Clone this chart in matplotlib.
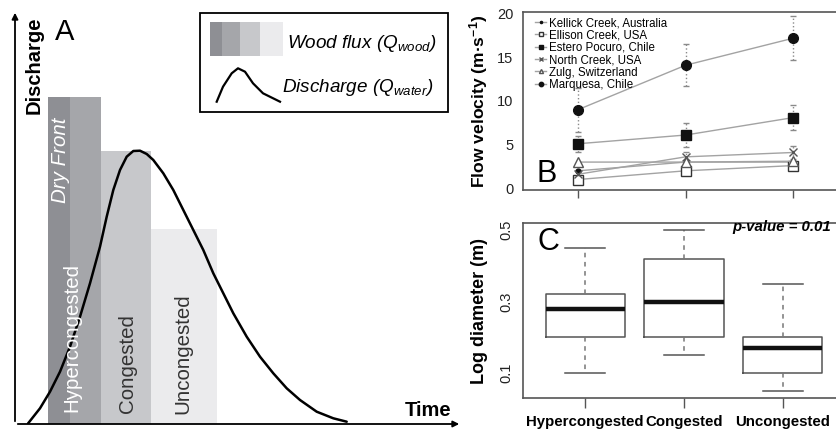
import matplotlib
matplotlib.use("Agg")
import matplotlib.pyplot as plt
from matplotlib.patches import Rectangle

plt.rcParams['font.family'] = ['Liberation Sans', 'DejaVu Sans']
plt.rcParams['mathtext.fontset'] = 'custom'
plt.rcParams['mathtext.rm'] = 'Liberation Sans'
plt.rcParams['mathtext.it'] = 'Liberation Sans:italic'
plt.rcParams['mathtext.bf'] = 'Liberation Sans:bold'

# ---- panel A: conceptual wood flux / discharge ----
phase_names = ["Dry Front", "Hypercongested", "Congested", "Uncongested"]
phase_start = [33, 55, 86, 136]
phase_width = [22, 31, 50, 66]
phase_flux = [327, 327, 273, 195]
phase_colors = ["#8e8f94", "#a5a6aa", "#c7c8cb", "#ebebed"]

hydro_t = [13, 25, 35, 45, 55, 65, 75, 85, 91.7, 98.3, 105, 111.7, 118.3, 125,
           131.7, 138.3, 148.3, 158.3, 168.3, 178.3, 188.3, 198.3, 208.3, 218.3,
           231.7, 245, 258.3, 271.7, 285, 301.7, 318.3, 331.7]
hydro_q = [0.5, 15.7, 32.3, 52.3, 77.3, 107.3, 140.7, 177.3, 207.3, 234, 254,
           267.3, 273, 273.3, 270, 264, 250.7, 234, 214, 194, 174, 150.7, 130.7,
           110.7, 87.3, 67.3, 50.7, 35.7, 24, 12.3, 5.7, 2.3]

# little legend curve
mini_t = [201.7, 208, 216.7, 223, 230, 238, 248, 265]
mini_q = [322.3, 337.3, 350.7, 355.7, 352.3, 340.7, 330.7, 322.3]
swatch_start = [195, 207, 225, 245]
swatch_width = [12, 18, 20, 23]

# ---- panel B: flow velocity ----
sites = ["Kellick Creek, Australia", "Ellison Creek, USA", "Estero Pocuro, Chile",
         "North Creek, USA", "Zulg, Switzerland", "Marquesa, Chile"]
phase_pos = [1, 2, 3]
kellick = [2.0, 3.0, 3.0]
ellison = [1.0, 2.0, 2.6]
estero = [5.1, 6.1, 8.1]
estero_err = [0.9, 1.4, 1.4]
north = [1.6, 3.6, 4.1]
north_err = [0.5, 0.6, 0.7]
zulg = [3.0, 3.0, 3.1]
marquesa = [9.0, 14.1, 17.2]
marquesa_err = [2.5, 2.4, 2.5]

# ---- panel C: log diameter boxplots ----
box_labels = ["Hypercongested", "Congested", "Uncongested"]
box_q1 = [0.20, 0.20, 0.10]
box_med = [0.28, 0.30, 0.17]
box_q3 = [0.32, 0.42, 0.20]
box_lo = [0.10, 0.15, 0.05]
box_hi = [0.45, 0.50, 0.35]

W, H = 837, 430
fig = plt.figure(figsize=(W / 100, H / 100), dpi=100)


def px_axes(left, top, right, bottom):
    return fig.add_axes([left / W, 1 - bottom / H, (right - left) / W, (bottom - top) / H])


# panel A
ax = px_axes(15, 10, 462, 424)
ax.set_xlim(0, 447)
ax.set_ylim(0, 414)
ax.axis("off")
for s, w, h, c in zip(phase_start, phase_width, phase_flux, phase_colors):
    ax.bar(s, h, width=w, align="edge", color=c, linewidth=0)
ax.plot(hydro_t, hydro_q, color="black", lw=1.8, solid_capstyle="round")
ax.annotate("", xy=(0, 414), xytext=(0, 0), annotation_clip=False,
            arrowprops=dict(arrowstyle="-|>", color="black", lw=1.3, mutation_scale=9))
ax.annotate("", xy=(447, 0), xytext=(0, 0), annotation_clip=False,
            arrowprops=dict(arrowstyle="-|>", color="black", lw=1.3, mutation_scale=9))
ax.text(50, 392, "A", fontsize=21, ha="center", va="center")
ax.text(19, 359, "Discharge", fontsize=14.5, fontweight="bold", rotation=90,
        ha="center", va="center")
ax.text(413, 13, "Time", fontsize=14.5, fontweight="bold", ha="center", va="center")
ax.text(46, 264, phase_names[0], fontsize=14.8, style="italic", color="white",
        rotation=90, ha="center", va="center")
ax.text(57, 87, phase_names[1], fontsize=14.8, color="white", rotation=90,
        ha="center", va="center")
ax.text(113, 60, phase_names[2], fontsize=14.8, color="#333333", rotation=90,
        ha="center", va="center")
ax.text(168, 70, phase_names[3], fontsize=14.8, color="#333333", rotation=90,
        ha="center", va="center")
# legend box
ax.add_patch(Rectangle((185, 312), 248, 99, fill=False, edgecolor="black", lw=1.3, clip_on=False))
for s, w, c in zip(swatch_start, swatch_width, phase_colors):
    ax.bar(s, 34, width=w, bottom=368, align="edge", color=c, linewidth=0)
ax.plot(mini_t, mini_q, color="black", lw=1.6)
ax.text(272, 381, "Wood flux (Q$_{wood}$)", fontsize=13.6, style="italic", va="center")
ax.text(267, 337, "Discharge (Q$_{water}$)", fontsize=13.6, style="italic", va="center")

# panel B
axb = px_axes(523, 12, 845, 190)
axb.set_xlim(0.49, 3.48)
axb.set_ylim(-0.2, 20.2)
line_c = "#a3a3a3"
axb.errorbar(phase_pos, marquesa, yerr=marquesa_err, fmt="none", ecolor="#8a8a8a",
             elinewidth=1, capsize=2.5)
axb.errorbar(phase_pos, estero, yerr=estero_err, fmt="none", ecolor="#8a8a8a",
             elinewidth=1, capsize=2.5)
axb.errorbar(phase_pos, north, yerr=north_err, fmt="none", ecolor="#8a8a8a",
             elinewidth=1, capsize=2.5)
for eb in axb.containers:
    for col in eb.lines[2]:
        col.set_linestyle(":")
axb.plot(phase_pos, kellick, color=line_c, lw=1, marker="o", ms=3.5, mfc="#111111",
         mec="#111111", label=sites[0])
axb.plot(phase_pos, ellison, color=line_c, lw=1, marker="s", ms=6.5, mfc="white",
         mec="#333333", label=sites[1])
axb.plot(phase_pos, estero, color=line_c, lw=1, marker="s", ms=6.5, mfc="#111111",
         mec="#111111", label=sites[2])
axb.plot(phase_pos, north, color=line_c, lw=1, marker="x", ms=6, mec="#555555",
         mew=1, label=sites[3])
axb.plot(phase_pos, zulg, color=line_c, lw=1, marker="^", ms=6.5, mfc="white",
         mec="#555555", label=sites[4])
axb.plot(phase_pos, marquesa, color=line_c, lw=1, marker="o", ms=7, mfc="#111111",
         mec="#111111", label=sites[5])
axb.legend(loc="upper left", bbox_to_anchor=(0.015, 1.01), frameon=False,
           fontsize=8.3, markerscale=0.45, handlelength=1.0, handletextpad=0.2,
           labelspacing=0.03, borderaxespad=0.2)
axb.set_xticks(phase_pos)
axb.set_xticklabels([])
axb.set_yticks([0, 5, 10, 15, 20])
axb.tick_params(axis="x", length=6, width=1, color="#555555", direction="out")
axb.tick_params(axis="y", length=0, pad=7, labelsize=10.5, labelcolor="#222222")
for sp in axb.spines.values():
    sp.set_color("#555555")
    sp.set_linewidth(1.2)
axb.set_ylabel("Flow velocity (m·s$^{\\mathbf{-1}}$)", fontsize=12.6, fontweight="bold")
axb.yaxis.set_label_coords(-0.102, 0.5)
axb.text(0.072, 0.09, "B", fontsize=22, ha="center", va="center", transform=axb.transAxes)

# panel C
axc = px_axes(523, 223, 845, 398)
stats = []
for lab, q1, med, q3, lo, hi in zip(box_labels, box_q1, box_med, box_q3, box_lo, box_hi):
    stats.append(dict(label=lab, q1=q1, med=med, q3=q3, whislo=lo, whishi=hi, fliers=[]))
axc.bxp(stats, positions=phase_pos, widths=0.8, capwidths=0.4, showfliers=False,
        boxprops=dict(color="#555555", lw=1.1),
        medianprops=dict(color="#111111", lw=3.2, solid_capstyle="butt"),
        whiskerprops=dict(color="#777777", lw=1.1, linestyle=(0, (3, 3))),
        capprops=dict(color="#555555", lw=1.1))
axc.set_xlim(0.37, 3.63)
axc.set_ylim(0.03, 0.52)
axc.set_yticks([0.1, 0.3, 0.5])
axc.set_yticklabels(["0.1", "0.3", "0.5"], rotation=90, va="center")
axc.tick_params(axis="y", length=0, pad=7, labelsize=10.5, labelcolor="#222222")
axc.tick_params(axis="x", length=7, width=1, color="#555555", pad=5, labelsize=10.8)
for t in axc.get_xticklabels():
    t.set_fontweight("bold")
for sp in axc.spines.values():
    sp.set_color("#555555")
    sp.set_linewidth(1.2)
axc.set_ylabel("Log diameter (m)", fontsize=13, fontweight="bold")
axc.yaxis.set_label_coords(-0.108, 0.5)
axc.text(0.078, 0.89, "C", fontsize=22, ha="center", va="center", transform=axc.transAxes)
fig.text(831 / W, 1 - 227 / H, "p-value = 0.01", fontsize=10.8, fontweight="bold",
         style="italic", ha="right", va="center")

fig.savefig("out.png", dpi=100)
